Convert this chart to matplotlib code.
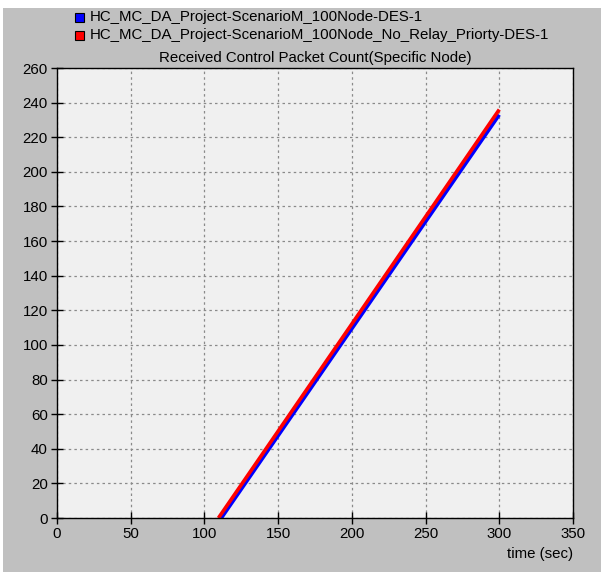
import matplotlib.pyplot as plt
from matplotlib.patches import Rectangle

plt.rcParams['font.family'] = ['Liberation Sans', 'DejaVu Sans']

# data
time_blue = [111.5, 300]
count_blue = [0, 233]
time_red = [109.5, 300]
count_red = [0, 236]
label_blue = 'HC_MC_DA_Project-ScenarioM_100Node-DES-1'
label_red = 'HC_MC_DA_Project-ScenarioM_100Node_No_Relay_Priorty-DES-1'
title = 'Received Control Packet Count(Specific Node)'
xticks = list(range(0, 351, 50))
yticks = list(range(0, 261, 20))

W, H = 601, 572
fig = plt.figure(figsize=(W / 100, H / 100), dpi=100)
fig.patch.set_facecolor('white')
# grey panel behind everything
fig.patches.append(Rectangle((3 / W, 0), 1, 1 - 8 / H, transform=fig.transFigure,
                             facecolor='#c0c0c0', edgecolor='none', zorder=-10))

ax = fig.add_axes([57 / W, 1 - 518 / H, 516 / W, 450 / H])
ax.set_facecolor('#f0f0f0')
ax.plot(time_blue, count_blue, color='#0000ff', lw=2.6, solid_capstyle='butt')
ax.plot(time_red, count_red, color='#ff0000', lw=2.6, solid_capstyle='butt')

ax.set_xlim(0, 350)
ax.set_ylim(0, 260)
ax.set_xticks(xticks)
ax.set_yticks(yticks)
ax.tick_params(direction='inout', length=9, width=1, labelsize=10.8, pad=2)
ax.grid(True, color='#8a8a8a', linestyle=(0, (2, 2.5)), linewidth=0.9)
for s in ax.spines.values():
    s.set_color('black')
    s.set_linewidth(1)
ax.set_title(title, fontsize=10.8, pad=4)
ax.set_xlabel('time (sec)', fontsize=10.8, loc='right', labelpad=4)

# legend
for i, (lab, col) in enumerate([(label_blue, '#0000ff'), (label_red, '#ff0000')]):
    y = 13 + i * 18
    fig.patches.append(Rectangle((75 / W, 1 - (y + 9) / H), 9 / W, 9 / H,
                                 transform=fig.transFigure, facecolor=col,
                                 edgecolor='black', lw=0.8))
    fig.text(90 / W, 1 - (y + 4.5) / H, lab, fontsize=10.8, va='center', ha='left')

fig.savefig('out.png', dpi=100)
